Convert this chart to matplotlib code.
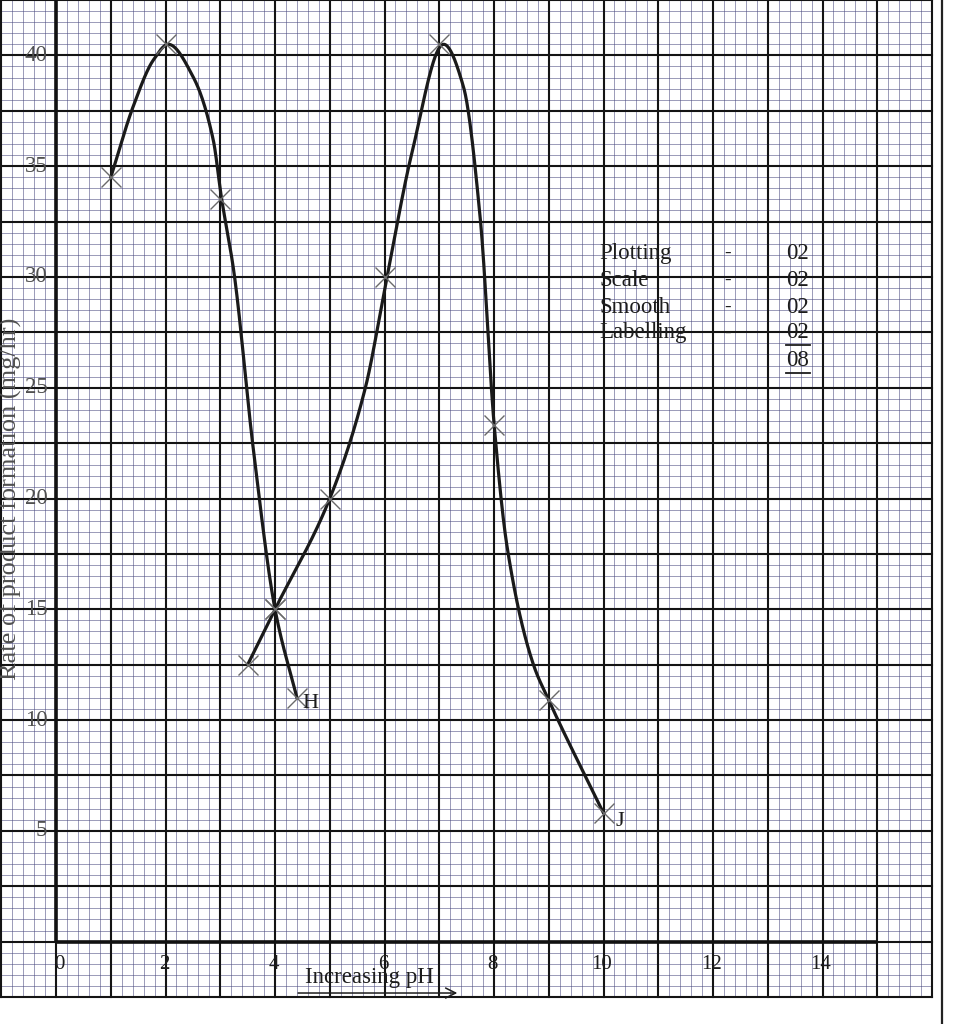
import numpy as np
import matplotlib
matplotlib.use("Agg")
import matplotlib.pyplot as plt
from matplotlib.lines import Line2D

# ---------------- data ----------------
# plotted points (crosses)
ph_H = [1, 2, 3, 4, 4.4]
rate_H = [34.5, 40.5, 33.5, 15.0, 11.0]
ph_J = [3.5, 4, 5, 6, 7, 8, 9, 10]
rate_J = [12.5, 15.0, 20.0, 30.0, 40.5, 23.3, 10.9, 5.8]

# hand-drawn smooth curves
curve_H_x = [1.0, 1.41, 1.78, 2.05, 2.51, 2.87, 3.02, 3.25, 3.6, 4.0, 4.4]
curve_H_y = [34.5, 37.7, 39.8, 40.5, 39.0, 36.2, 33.6, 30.2, 22.3, 15.0, 11.0]
curve_J_x = [3.5, 4.0, 5.0, 5.65, 6.03, 6.5, 7.08, 7.44, 7.75, 8.0, 8.24, 8.72,
             9.0, 10.0]
curve_J_y = [12.5, 15.0, 20.0, 25.0, 29.8, 35.6, 40.5, 38.6, 32.6, 23.4, 17.8, 12.5,
             10.9, 5.8]

x_ticks = [0, 2, 4, 6, 8, 10, 12, 14]
y_ticks = [5, 10, 15, 20, 25, 30, 35, 40]

marks_items = ["Plotting", "Scale", "Smooth", "Labelling"]
marks_values = ["02", "02", "02", "02"]
marks_total = "08"

y_label = "Rate of product formation (mg/hr)"
x_label = "Increasing pH"


def pchip(x, y):
    x = np.asarray(x, float)
    y = np.asarray(y, float)
    h = np.diff(x)
    d = np.diff(y) / h
    m = np.zeros_like(y)
    m[0], m[-1] = d[0], d[-1]
    for k in range(1, len(x) - 1):
        if d[k - 1] * d[k] <= 0:
            m[k] = 0.0
        else:
            w1 = 2 * h[k] + h[k - 1]
            w2 = h[k] + 2 * h[k - 1]
            m[k] = (w1 + w2) / (w1 / d[k - 1] + w2 / d[k])
    xs, ys = [], []
    for k in range(len(x) - 1):
        t = np.linspace(0, 1, 40, endpoint=(k == len(x) - 2))
        h00 = 2 * t**3 - 3 * t**2 + 1
        h10 = t**3 - 2 * t**2 + t
        h01 = -2 * t**3 + 3 * t**2
        h11 = t**3 - t**2
        xs.append(x[k] + t * h[k])
        ys.append(h00 * y[k] + h10 * h[k] * m[k] + h01 * y[k + 1] + h11 * h[k] * m[k + 1])
    return np.concatenate(xs), np.concatenate(ys)


W, H = 954, 1024
fig = plt.figure(figsize=(W / 100, H / 100), dpi=100)
fig.patch.set_facecolor("white")
ax = fig.add_axes([1.3 / W, 27 / H, 930.7 / W, 997 / H])
ax.set_xlim(-1, 16)
ax.set_ylim(-2.5, 42.5)
ax.set_axis_off()

serif = ["Liberation Serif", "DejaVu Serif"]
ink = "#1c1c1c"

# ---------------- graph paper ----------------
minor_c = "#4a4a80"
major_c = "#141414"
for k in range(0, 86):
    xv = -1 + 0.2 * k
    if k % 5 == 0:
        ax.plot([xv, xv], [-2.5, 42.5], color=major_c, lw=1.5, clip_on=False, zorder=1)
    else:
        ax.plot([xv, xv], [-2.5, 42.5], color=minor_c, lw=0.55, alpha=0.7,
                clip_on=False, zorder=0.5)
for k in range(0, 91):
    yv = -2.5 + 0.5 * k
    if k % 5 == 0:
        ax.plot([-1, 16], [yv, yv], color=major_c, lw=1.5, clip_on=False, zorder=1)
    else:
        ax.plot([-1, 16], [yv, yv], color=minor_c, lw=0.55, alpha=0.7,
                clip_on=False, zorder=0.5)

# axes lines
ax.plot([0, 15], [0, 0], color="#111111", lw=2.6, zorder=2, solid_capstyle="butt")
ax.plot([0, 0], [0, 42.5], color="#111111", lw=2.6, zorder=2, clip_on=False,
        solid_capstyle="butt")

# page border on right
fig.add_artist(Line2D([942 / W, 942 / W], [0, 1], color="#222222", lw=1.6))

# ---------------- tick labels ----------------
for v in y_ticks:
    ax.text(-0.16, v, str(v), ha="right", va="center", fontsize=16.5,
            family=serif, color="#505050", zorder=3)
for v in x_ticks:
    xx = 0.07 if v == 0 else v - 0.03
    ax.text(xx, -1.02, str(v), ha="center", va="center", fontsize=15,
            family=serif, color=ink, zorder=3)

ax.text(-0.84, 20.0, y_label, rotation=90, ha="center", va="center",
        fontsize=19, family=serif, color="#505050", zorder=3)
ax.text(5.73, -1.62, x_label, ha="center", va="center", fontsize=16.5,
        family=serif, color=ink, zorder=3)
ax.annotate("", xy=(7.38, -2.32), xytext=(4.37, -2.32),
            arrowprops=dict(arrowstyle="->", color=ink, lw=1.1,
                            mutation_scale=18), zorder=3)

# ---------------- curves and points ----------------
cx, cy = pchip(curve_H_x, curve_H_y)
ax.plot(cx, cy, color="#1a1a1a", lw=2.3, zorder=4, solid_capstyle="round")
cx, cy = pchip(curve_J_x, curve_J_y)
ax.plot(cx, cy, color="#1a1a1a", lw=2.3, zorder=4, solid_capstyle="round")

ax.plot(ph_H, rate_H, ls="none", marker="x", ms=14, mew=1.0, color="#6a6a6a", zorder=5)
ax.plot(ph_J, rate_J, ls="none", marker="x", ms=14, mew=1.0, color="#6a6a6a", zorder=5)

ax.text(4.5, 10.75, "H", ha="left", va="center", fontsize=16, family=serif,
        color=ink, zorder=5)
ax.text(10.22, 5.4, "J", ha="left", va="center", fontsize=16, family=serif,
        color=ink, zorder=5)

# ---------------- marking scheme box ----------------
row_y = [31.08, 29.86, 28.64, 27.47]
for name, val, yy in zip(marks_items, marks_values, row_y):
    ax.text(9.93, yy, name, ha="left", va="center", fontsize=16.5, family=serif,
            color=ink, zorder=5)
    ax.text(12.27, yy, "-", ha="center", va="center", fontsize=14, family=serif,
            color=ink, zorder=5)
    ax.text(13.55, yy, val, ha="center", va="center", fontsize=16.5, family=serif,
            color=ink, zorder=5)
ax.text(13.55, 26.25, marks_total, ha="center", va="center", fontsize=16.5,
        family=serif, color=ink, zorder=5)
ax.plot([13.33, 13.77], [26.93, 26.93], color=ink, lw=1.3, zorder=5)
ax.plot([13.33, 13.77], [25.68, 25.68], color=ink, lw=1.3, zorder=5)

fig.savefig("out.png", dpi=100, facecolor="white")
